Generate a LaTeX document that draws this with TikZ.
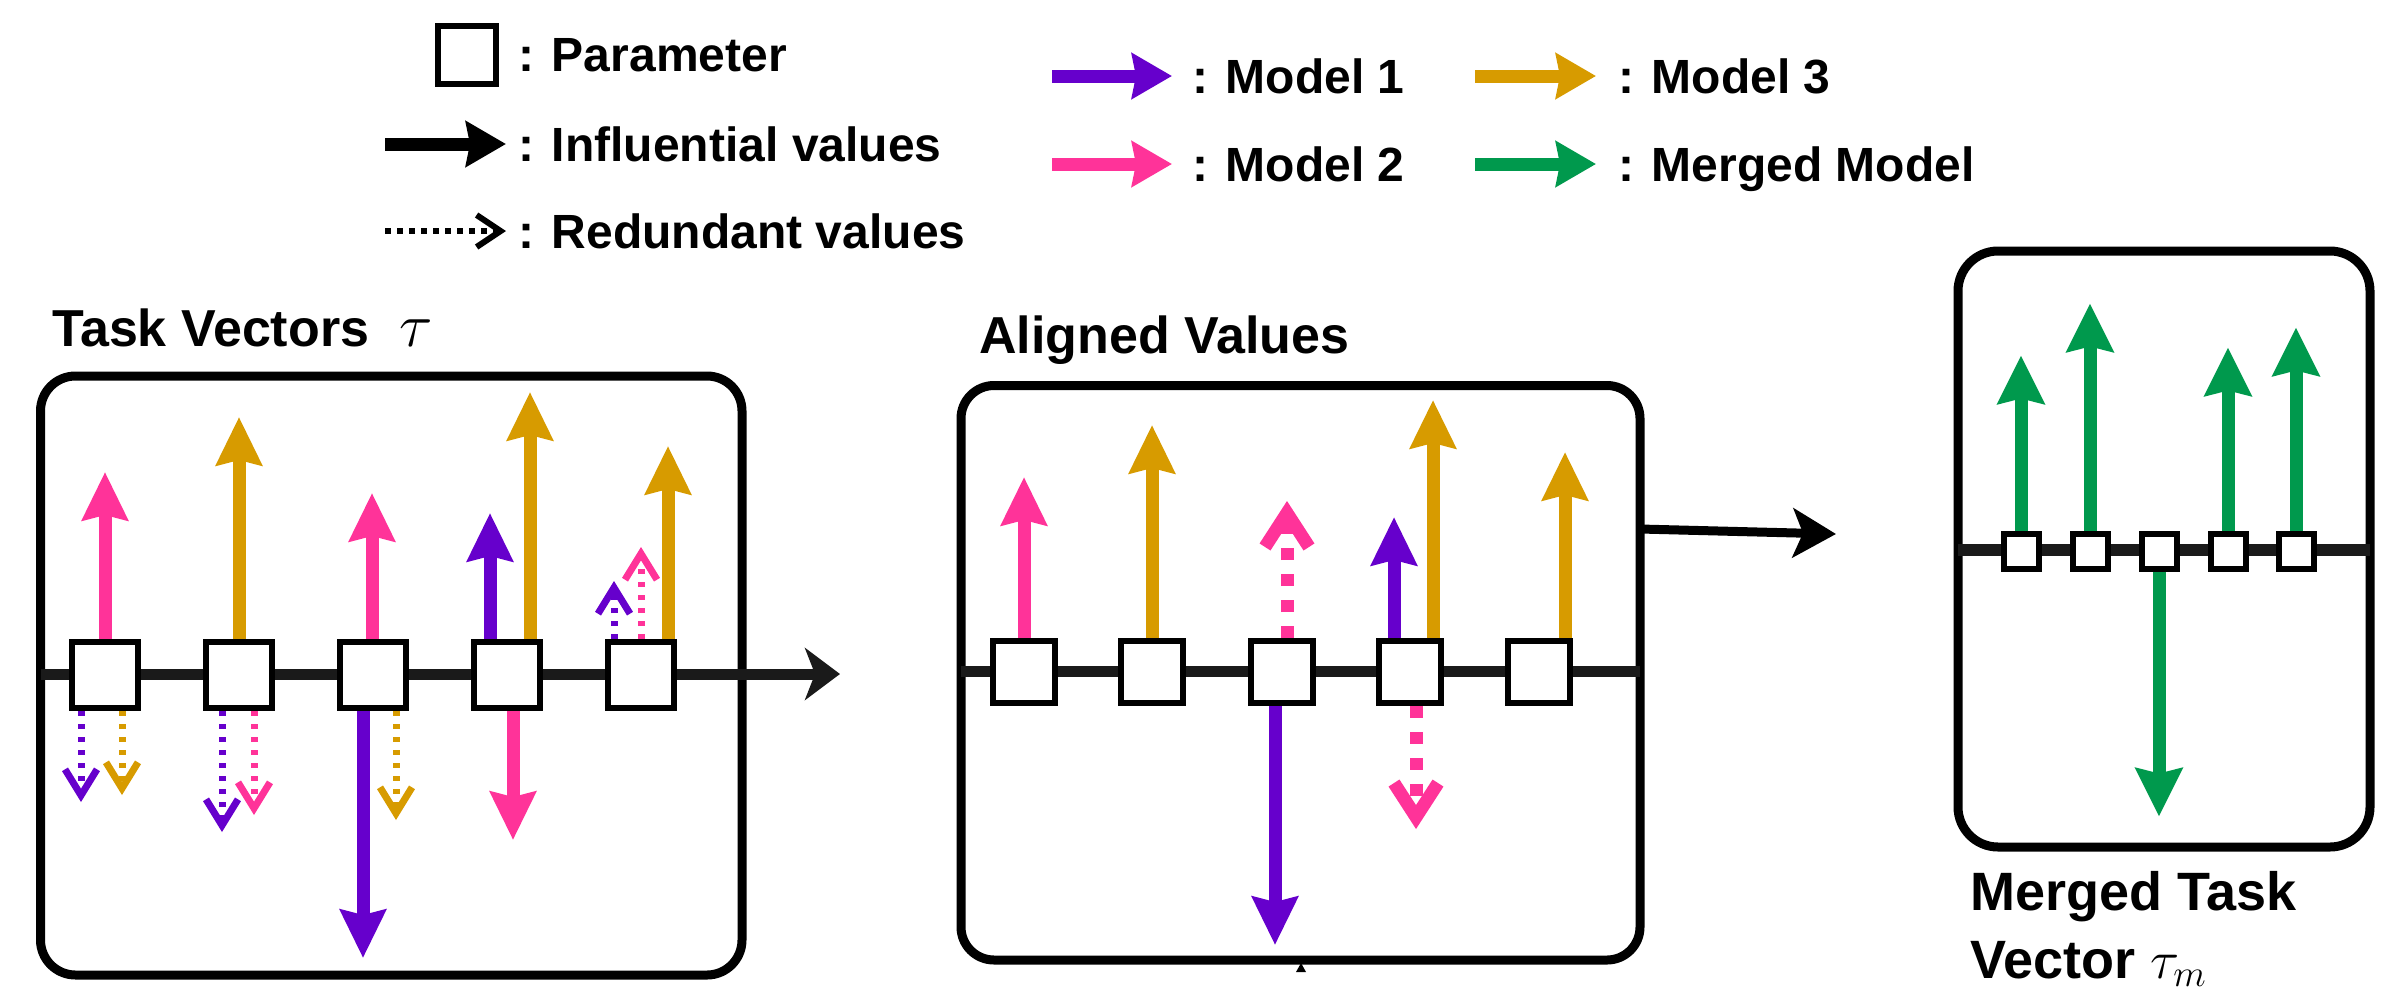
\documentclass[tikz,border=0pt]{standalone}
\usepackage{fix-cm}
\usepackage{fontspec}
\setmainfont{Liberation Sans}
\usetikzlibrary{arrows.meta}
\definecolor{mpurple}{HTML}{6600CC}
\definecolor{mpink}{HTML}{FF3399}
\definecolor{mgold}{HTML}{D79B00}
\definecolor{mgreen}{HTML}{00994D}
\definecolor{axisc}{HTML}{1A1A1A}
\tikzset{
  panel/.style={draw=black, line width=9pt, inner sep=0pt, outer sep=0pt},
  param/.style={draw=black, fill=white, line width=6pt, inner sep=0pt},
  axisline/.style={draw=axisc, line width=11pt},
  vec/.style={line width=13pt, -{Stealth[length=48pt,width=45pt,inset=5pt]}},
  vpu/.style={vec, draw=mpurple},
  vpk/.style={vec, draw=mpink},
  vgd/.style={vec, draw=mgold},
  vgn/.style={vec, draw=mgreen, -{Stealth[length=48pt,width=46pt,inset=5pt]}},
  redund/.style={line width=7pt, dash pattern=on 5pt off 8pt, -{Straight Barb[length=26pt,width=32pt,sharp]}},
  rpu/.style={redund, draw=mpurple},
  rpk/.style={redund, draw=mpink},
  rgd/.style={redund, draw=mgold},
  dpk/.style={draw=mpink, line width=13pt, dash pattern=on 12pt off 14pt, -{Straight Barb[length=34pt,width=44pt,sharp]}},
  ttl/.style={font=\fontsize{52}{60}\selectfont\bfseries, anchor=base west, inner sep=0pt},
  leg/.style={font=\fontsize{48}{56}\selectfont\bfseries, anchor=base west, inner sep=0pt},
  legarrow/.style={line width=13pt, -{Stealth[length=40pt,width=45pt,inset=4pt]}},
}
\begin{document}
\begin{tikzpicture}[x=1pt,y=-1pt]
\useasboundingbox (0,0) rectangle (2384,989);

% ---------------- legend ----------------
\node[param, line width=6pt, minimum size=58pt] (lsq) at (467,55) {};
\node[leg] (lpar) at (518,71) {: Parameter};
\coordinate (lia) at (385,144); \coordinate (lib) at (506,144);
\draw[legarrow, draw=black] (lia) -- (lib);
\node[leg] (linf) at (518,161) {: Influential values};
\coordinate (lra) at (385,231); \coordinate (lrb) at (506,231);
\draw[line width=6pt, dash pattern=on 6pt off 6pt, draw=black, -{Straight Barb[length=24pt,width=32pt,sharp]}] (lra) -- (lrb);
\node[leg] (lred) at (518,248) {: Redundant values};

\coordinate (m1a) at (1052,76); \coordinate (m1b) at (1172,76);
\draw[legarrow, draw=mpurple] (m1a) -- (m1b);
\node[leg] (lm1) at (1192,93) {: Model 1};
\coordinate (m2a) at (1052,164); \coordinate (m2b) at (1172,164);
\draw[legarrow, draw=mpink] (m2a) -- (m2b);
\node[leg] (lm2) at (1192,181) {: Model 2};
\coordinate (m3a) at (1475,76); \coordinate (m3b) at (1596,76);
\draw[legarrow, draw=mgold] (m3a) -- (m3b);
\node[leg] (lm3) at (1618,93) {: Model 3};
\coordinate (mma) at (1475,164); \coordinate (mmb) at (1596,164);
\draw[legarrow, draw=mgreen] (mma) -- (mmb);
\node[leg] (lmm) at (1618,181) {: Merged Model};

% ---------------- panel 1: task vectors ----------------
\node[ttl] (t1) at (52,346) {Task Vectors\hspace{30pt}{\fontsize{62}{62}\selectfont$\tau$}};
\node[panel, rounded corners=35pt, minimum width=701.5pt, minimum height=599pt] (p1) at (391.25,675.5) {};
\coordinate (a1s) at (40.5,674); \coordinate (a1e) at (840,674);
\draw[axisline, -{Stealth[length=35pt,width=52pt,inset=10pt]}] (a1s) -- (a1e);
\foreach \i/\x in {1/105,2/239,3/373,4/507,5/641}
  \node[param, minimum size=66pt] (s1\i) at (\x,675) {};

% square 1
\draw[vpk] (s11.north) -- ++(0,-167);
\draw[rpu] ([xshift=-24pt]s11.south) -- ++(0,91);
\draw[rgd] ([xshift=17pt]s11.south) -- ++(0,84);
% square 2
\draw[vgd] (s12.north) -- ++(0,-222);
\draw[rpu] ([xshift=-17pt]s12.south) -- ++(0,121);
\draw[rpk] ([xshift=15pt]s12.south) -- ++(0,104);
% square 3
\draw[vpk] ([xshift=-1pt]s13.north) -- ++(0,-146);
\draw[vpu] ([xshift=-10pt]s13.south) -- ++(0,247);
\draw[rgd] ([xshift=23pt]s13.south) -- ++(0,109);
% square 4
\draw[vpu] ([xshift=-17pt]s14.north) -- ++(0,-126);
\draw[vgd] ([xshift=23pt]s14.north) -- ++(0,-247);
\draw[vpk] ([xshift=6pt]s14.south) -- ++(0,129);
% square 5
\draw[rpu] ([xshift=-27pt]s15.north) -- ++(0,-58);
\draw[rpk] (s15.north) -- ++(0,-92);
\draw[vgd] ([xshift=27pt]s15.north) -- ++(0,-193);

% ---------------- panel 2: aligned values ----------------
\node[ttl] (t2) at (979,353) {Aligned Values};
\node[panel, rounded corners=33pt, minimum width=679pt, minimum height=574.5pt] (p2) at (1300.5,672.75) {};
\coordinate (a2s) at (961,671); \coordinate (a2e) at (1640,671);
\draw[axisline] (a2s) -- (a2e);
\foreach \i/\x in {1/1024,2/1152,3/1282,4/1410,5/1539}
  \node[param, minimum size=62pt] (s2\i) at (\x,672) {};

\draw[vpk] (s21.north) -- ++(0,-161);
\draw[vgd] (s22.north) -- ++(0,-213);
\draw[dpk] ([xshift=5pt]s23.north) -- ++(0,-137);
\draw[vpu] ([xshift=-7pt]s23.south) -- ++(0,239);
\draw[vpu] ([xshift=-16pt]s24.north) -- ++(0,-121);
\draw[vgd] ([xshift=23pt]s24.north) -- ++(0,-238);
\draw[dpk] ([xshift=6pt]s24.south) -- ++(0,123);
\draw[vgd] ([xshift=26pt]s25.north) -- ++(0,-186);
\fill[black] (1296,972) -- (1301,963) -- (1306,972) -- cycle;

% connector to merged panel
\draw[line width=9pt, draw=black, -{Stealth[length=43pt,width=49pt,inset=10pt]}] ([yshift=143.75pt]p2.east) -- ++(196,5);

% ---------------- panel 3: merged ----------------
\node[panel, rounded corners=40pt, minimum width=412pt, minimum height=596pt] (p3) at (2164,549) {};
\coordinate (a3s) at (1958,550); \coordinate (a3e) at (2370,550);
\draw[axisline, line width=12pt] (a3s) -- (a3e);
\foreach \i/\x in {1/2021,2/2090,3/2159,4/2228,5/2296}
  \node[param, minimum size=35pt] (s3\i) at (\x,551) {};

\draw[vgn] (s31.north) -- ++(0,-175);
\draw[vgn] (s32.north) -- ++(0,-227);
\draw[vgn] (s33.south) -- ++(0,245);
\draw[vgn] (s34.north) -- ++(0,-183);
\draw[vgn] (s35.north) -- ++(0,-203);

\node[ttl, font=\fontsize{54}{60}\selectfont\bfseries] (t3a) at (1970,910) {Merged Task};
\node[ttl, font=\fontsize{54}{60}\selectfont\bfseries] (t3b) at (1970,978) {Vector $\tau_m$};
\end{tikzpicture}
\end{document}
